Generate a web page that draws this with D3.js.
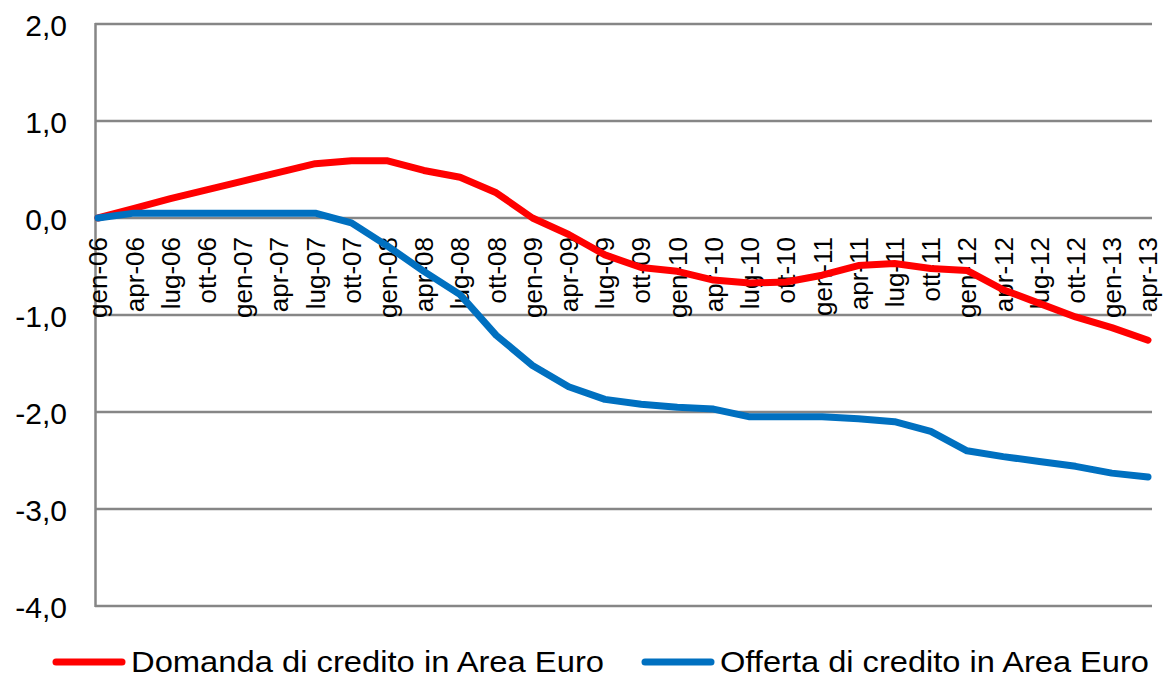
<!DOCTYPE html>
<html>
<head>
<meta charset="utf-8">
<script src="https://cdn.jsdelivr.net/npm/d3@7"></script>
<style>
    body { margin: 0; background: #fff; }
    text { font-family: Arial, "Liberation Sans", sans-serif; fill: #000; }
</style>
</head>
<body>
<div class="main"></div>
<script>
const WIDTH = 1164;
const HEIGHT = 679;

// quarterly categories, gen-06 .. apr-13
const categories = [
    "gen-06", "apr-06", "lug-06", "ott-06",
    "gen-07", "apr-07", "lug-07", "ott-07",
    "gen-08", "apr-08", "lug-08", "ott-08",
    "gen-09", "apr-09", "lug-09", "ott-09",
    "gen-10", "apr-10", "lug-10", "ott-10",
    "gen-11", "apr-11", "lug-11", "ott-11",
    "gen-12", "apr-12", "lug-12", "ott-12",
    "gen-13", "apr-13"
];

const domanda = [
    0.00, 0.10, 0.20, 0.29, 0.38, 0.47, 0.56, 0.59,
    0.59, 0.49, 0.42, 0.26, 0.00, -0.17, -0.38, -0.51,
    -0.55, -0.64, -0.67, -0.66, -0.59, -0.49, -0.47, -0.52,
    -0.54, -0.74, -0.88, -1.02, -1.13, -1.26
];

const offerta = [
    0.00, 0.05, 0.05, 0.05, 0.05, 0.05, 0.05, -0.05,
    -0.29, -0.55, -0.79, -1.21, -1.52, -1.74, -1.87, -1.92,
    -1.95, -1.97, -2.05, -2.05, -2.05, -2.07, -2.10, -2.20,
    -2.40, -2.46, -2.51, -2.56, -2.63, -2.67
];

const yTicks = [2, 1, 0, -1, -2, -3, -4];

const seriesNames = ["Domanda di credito in Area Euro", "Offerta di credito in Area Euro"];
const seriesColors = ["#FF0000", "#0070C0"];

var svg = d3.select(".main")
    .append("svg")
        .attr("width", WIDTH)
        .attr("height", HEIGHT);

var x = d3.scalePoint()
    .domain(categories)
    .range([98, 1148]);

var y = d3.scaleLinear()
    .domain([-4, 2])
    .range([606, 24]);

// gridlines
svg.append("g")
    .selectAll("line")
    .data(yTicks)
    .join("line")
        .attr("x1", 95)
        .attr("x2", 1152)
        .attr("y1", d => y(d))
        .attr("y2", d => y(d))
        .attr("stroke", "#868686")
        .attr("stroke-width", 2.5);

// left axis line
svg.append("line")
    .attr("x1", 95.5).attr("x2", 95.5)
    .attr("y1", y(2) - 1).attr("y2", y(-4) + 1)
    .attr("stroke", "#868686")
    .attr("stroke-width", 2.5);

// y tick labels
var fmt = d => d3.format(".1f")(d).replace(".", ",").replace("−", "-");
svg.append("g")
    .selectAll("text")
    .data(yTicks)
    .join("text")
        .attr("x", 67)
        .attr("y", d => y(d))
        .attr("dy", "0.40em")
        .attr("text-anchor", "end")
        .style("font-size", "30px")
        .text(fmt);

// category labels, rotated, hanging below the zero line
svg.append("g")
    .selectAll("text")
    .data(categories)
    .join("text")
        .attr("transform", d => `translate(${x(d)},${y(0) + 19}) rotate(-90)`)
        .attr("dy", "0.36em")
        .attr("text-anchor", "end")
        .style("font-size", "26px")
        .text(d => d);

// series lines
var line = d3.line()
    .x((d, i) => x(categories[i]))
    .y(d => y(d));

svg.append("g")
    .selectAll("path")
    .data([domanda, offerta])
    .join("path")
        .attr("d", line)
        .attr("fill", "none")
        .attr("stroke", (d, i) => seriesColors[i])
        .attr("stroke-width", 7)
        .attr("stroke-linejoin", "round")
        .attr("stroke-linecap", "round");

// legend
var legendX = [56, 645];
var legendTextLen = [473, 429];
var legend = svg.append("g")
    .selectAll("g")
    .data(seriesNames)
    .join("g")
        .attr("transform", (d, i) => `translate(${legendX[i]},662)`);

legend.append("line")
    .attr("x1", 0).attr("x2", 66)
    .attr("y1", 0).attr("y2", 0)
    .attr("stroke", (d, i) => seriesColors[i])
    .attr("stroke-width", 7)
    .attr("stroke-linecap", "round");

legend.append("text")
    .attr("x", 75)
    .attr("y", 10)
    .attr("textLength", (d, i) => legendTextLen[i])
    .attr("lengthAdjust", "spacingAndGlyphs")
    .style("font-size", "29px")
    .text(d => d);
</script>
</body>
</html>
